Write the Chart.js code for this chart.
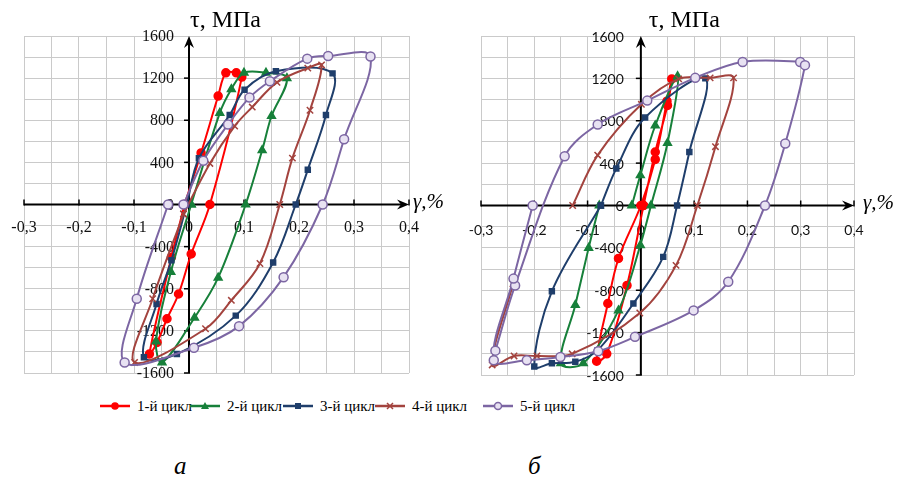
<!DOCTYPE html>
<html>
<head>
<meta charset="utf-8">
<title>Петли гистерезиса τ–γ</title>
<style>
  body { margin: 0; background: #fff; width: 898px; height: 482px; position: relative; overflow: hidden; }
  .panel { position: absolute; top: 0; }
  #legend { position: absolute; top: 396px; left: 0; width: 898px; height: 20px; font-family: "Liberation Serif"; font-size: 15px; color: #000; }
  .item { position: absolute; top: 0; height: 20px; display: flex; align-items: center; white-space: nowrap; }
  .item svg { margin-right: 7px; }
  .cap { position: absolute; top: 452px; font-family: "Liberation Serif"; font-style: italic; font-size: 25px; color: #000; }
</style>
</head>
<body>
<canvas id="chartA" class="panel" style="left:0" width="449" height="390"></canvas>
<canvas id="chartB" class="panel" style="left:449px" width="449" height="390"></canvas>
<div id="legend"></div>
<div class="cap" style="left:174px">а</div>
<div class="cap" style="left:528px">б</div>

<script src="https://cdn.jsdelivr.net/npm/chart.js@4.4.1/dist/chart.umd.min.js"></script>
<script>
// подписи циклов
var cycleNames = ['1-й цикл', '2-й цикл', '3-й цикл', '4-й цикл', '5-й цикл'];

// подписи осей
var xTickValues = [-0.3, -0.2, -0.1, 0, 0.1, 0.2, 0.3, 0.4];
var xTickLabels = ['-0,3', '-0,2', '-0,1', '0', '0,1', '0,2', '0,3', '0,4'];
var yTickValues = [1600, 1200, 800, 400, 0, -400, -800, -1200, -1600];
var yTickLabels = ['1600', '1200', '800', '400', '0', '-400', '-800', '-1200', '-1600'];

// панель а: [γ, %; τ, МПа]
var cycle1A = [[-0.008,0],[0.022,490],[0.053,1030],[0.067,1250],[0.086,1250],[0.096,1210],[0.038,0],[0.004,-470],[-0.019,-850],[-0.040,-1085],[-0.058,-1310],[-0.072,-1420],[-0.032,-500],[-0.008,0]];
var cycle2A = [[0.004,0],[0.056,870],[0.077,1095],[0.100,1250],[0.140,1250],[0.178,1200],[0.150,840],[0.133,515],[0.103,0],[0.053,-695],[0.010,-1075],[-0.049,-1500],[-0.060,-1300],[-0.033,-640],[0.004,0]];
var cycle3A = [[-0.004,0],[0.018,440],[0.074,850],[0.101,1090],[0.158,1265],[0.261,1245],[0.249,850],[0.216,330],[0.194,0],[0.153,-550],[0.085,-1055],[-0.022,-1420],[-0.082,-1450],[-0.059,-945],[-0.032,-530],[-0.004,0]];
var cycle4A = [[-0.010,-90],[0.038,390],[0.083,745],[0.115,925],[0.160,1160],[0.216,1295],[0.241,1325],[0.220,895],[0.188,440],[0.165,0],[0.129,-560],[0.077,-910],[0.030,-1180],[-0.099,-1500],[-0.066,-895],[-0.010,-90]];
var cycle5A = [[-0.010,0],[0.026,415],[0.071,760],[0.110,1015],[0.147,1170],[0.215,1385],[0.253,1410],[0.330,1405],[0.282,620],[0.243,0],[0.172,-690],[0.091,-1155],[0.009,-1360],[-0.117,-1500],[-0.095,-895],[-0.038,0]];

// панель б
var cycle1B = [[0.005,0],[0.027,505],[0.050,945],[0.058,1195],[0.049,985],[0.027,435],[0.000,0],[-0.042,-500],[-0.062,-925],[-0.083,-1470],[-0.064,-1400],[-0.026,-755],[0.005,0]];
var cycle2B = [[-0.017,0],[-0.001,285],[0.027,755],[0.069,1220],[0.050,590],[0.019,0],[-0.001,-375],[-0.042,-990],[-0.108,-1490],[-0.150,-1490],[-0.123,-940],[-0.098,-400],[-0.078,0]];
var cycle3B = [[-0.075,0],[-0.046,350],[0.008,830],[0.121,1200],[0.091,505],[0.068,0],[0.042,-485],[-0.014,-925],[-0.081,-1365],[-0.123,-1475],[-0.167,-1490],[-0.200,-1520],[-0.167,-810],[-0.075,0]];
var cycle4B = [[-0.128,0],[-0.081,475],[0.001,955],[0.071,1195],[0.130,1205],[0.174,1205],[0.140,555],[0.106,0],[0.066,-565],[-0.002,-1015],[-0.129,-1400],[-0.195,-1420],[-0.238,-1420],[-0.279,-1505],[-0.240,-740]];
var cycle5B = [[-0.273,-1370],[-0.236,-755],[-0.143,465],[-0.081,765],[0.012,990],[0.102,1205],[0.191,1355],[0.299,1355],[0.308,1325],[0.271,585],[0.233,0],[0.164,-720],[0.099,-990],[-0.011,-1240],[-0.080,-1375],[-0.151,-1430],[-0.214,-1460],[-0.276,-1460],[-0.239,-690],[-0.203,0]];

var styles = [
  { color: '#ff0000', point: 'circle',   radius: 4,   fill: '#ff0000' },
  { color: '#17803a', point: 'triangle', radius: 4.5, fill: '#17803a' },
  { color: '#1f3e6b', point: 'rect',     radius: 3.5, fill: '#1f3e6b' },
  { color: '#a3433e', point: 'crossRot', radius: 4.5, fill: '#a3433e' },
  { color: '#7c66a3', point: 'circle',   radius: 4.5, fill: '#e8e2f2' }
];

function toXY(arr) {
  return arr.map(function (p) { return { x: p[0], y: p[1] }; });
}

function makeDatasets(cycles) {
  return cycles.map(function (c, i) {
    var s = styles[i];
    return {
      label: cycleNames[i],
      data: toXY(c),
      showLine: true,
      tension: 0.35,
      borderColor: s.color,
      borderWidth: 2,
      pointStyle: s.point,
      pointRadius: s.radius,
      pointBackgroundColor: s.fill,
      pointBorderColor: s.color,
      pointBorderWidth: 1.5,
      order: 5 - i
    };
  });
}

// оси со стрелками через ноль
function crossAxes(cfg) {
  return {
    id: 'crossAxes',
    beforeDatasetsDraw: function (chart) {
      var ctx = chart.ctx, xs = chart.scales.x, ys = chart.scales.y;
      var x0 = xs.getPixelForValue(0), y0 = ys.getPixelForValue(0);
      ctx.save();
      ctx.strokeStyle = '#000';
      ctx.fillStyle = '#000';
      ctx.lineWidth = 2;
      // ось γ
      ctx.beginPath(); ctx.moveTo(xs.left, y0); ctx.lineTo(xs.right - 6, y0); ctx.stroke();
      ctx.beginPath(); ctx.moveTo(xs.right, y0); ctx.lineTo(xs.right - 12, y0 - 5); ctx.lineTo(xs.right - 8, y0); ctx.lineTo(xs.right - 12, y0 + 5); ctx.closePath(); ctx.fill();
      // ось τ
      ctx.beginPath(); ctx.moveTo(x0, ys.bottom); ctx.lineTo(x0, ys.top + 6); ctx.stroke();
      ctx.beginPath(); ctx.moveTo(x0, ys.top); ctx.lineTo(x0 - 5, ys.top + 12); ctx.lineTo(x0, ys.top + 8); ctx.lineTo(x0 + 5, ys.top + 12); ctx.closePath(); ctx.fill();
      // засечки
      ctx.lineWidth = 1.5;
      xTickValues.forEach(function (v) {
        var px = xs.getPixelForValue(v);
        ctx.beginPath(); ctx.moveTo(px, y0 - 5); ctx.lineTo(px, y0 + 1); ctx.stroke();
      });
      yTickValues.forEach(function (v) {
        if (v === 1600) return;
        var py = ys.getPixelForValue(v);
        ctx.beginPath(); ctx.moveTo(x0 - 5, py); ctx.lineTo(x0 + 1, py); ctx.stroke();
      });
      // подписи делений
      ctx.font = cfg.tickFont;
      ctx.fillStyle = '#111';
      ctx.textAlign = 'right';
      ctx.textBaseline = 'middle';
      yTickValues.forEach(function (v, i) {
        ctx.fillText(yTickLabels[i], x0 - cfg.yLabelGap, ys.getPixelForValue(v) + 1);
      });
      ctx.textAlign = 'center';
      xTickValues.forEach(function (v, i) {
        ctx.fillText(xTickLabels[i], xs.getPixelForValue(v), y0 + cfg.xLabelGap);
      });
      // названия осей
      ctx.fillStyle = '#000';
      ctx.font = '24px "Liberation Serif"';
      ctx.textAlign = 'left';
      ctx.fillText('τ, МПа', x0 + cfg.titleDx, 21);
      ctx.font = 'italic 21px "Liberation Serif"';
      ctx.fillText('γ,%', xs.right + cfg.gammaDx, y0 - 2);
      ctx.restore();
    }
  };
}

function makeChart(id, cycles, padding, axisCfg) {
  return new Chart(document.getElementById(id), {
    type: 'scatter',
    data: { datasets: makeDatasets(cycles) },
    plugins: [crossAxes(axisCfg)],
    options: {
      responsive: false,
      animation: false,
      layout: { padding: padding },
      plugins: {
        legend: { display: false },
        tooltip: { enabled: false }
      },
      scales: {
        x: {
          type: 'linear', min: -0.3, max: 0.4,
          ticks: { display: false, stepSize: 0.05 },
          grid: { color: '#cacaca', lineWidth: 1, drawTicks: false },
          border: { display: false },
          afterFit: function (s) { s.height = 0; }
        },
        y: {
          type: 'linear', min: -1600, max: 1600,
          ticks: { display: false, stepSize: 200 },
          grid: { color: '#cacaca', lineWidth: 1, drawTicks: false },
          border: { display: false },
          afterFit: function (s) { s.width = 0; }
        }
      }
    }
  });
}

makeChart('chartA', [cycle1A, cycle2A, cycle3A, cycle4A, cycle5A],
  { left: 24, top: 36, right: 40, bottom: 17 },
  { tickFont: '16px "Liberation Serif"', yLabelGap: 15, xLabelGap: 23, titleDx: 1, gammaDx: 4 });

makeChart('chartB', [cycle1B, cycle2B, cycle3B, cycle4B, cycle5B],
  { left: 32, top: 36, right: 44, bottom: 15 },
  { tickFont: '14px Lato', yLabelGap: 17, xLabelGap: 25, titleDx: 8, gammaDx: 9 });

// легенда
var legendX = [100, 190, 283, 375, 483];
var legend = document.getElementById('legend');
styles.forEach(function (s, i) {
  var m;
  if (s.point === 'circle') m = '<circle cx="15" cy="10" r="' + (s.radius - 1) + '" fill="' + s.fill + '" stroke="' + s.color + '" stroke-width="1.5"/>';
  else if (s.point === 'triangle') m = '<polygon points="15,6 19,13 11,13" fill="' + s.color + '"/>';
  else if (s.point === 'rect') m = '<rect x="12" y="7" width="6" height="6" fill="' + s.color + '"/>';
  else m = '<path d="M12 7 L18 13 M18 7 L12 13" stroke="' + s.color + '" stroke-width="1.5"/>';
  var el = document.createElement('div');
  el.className = 'item';
  el.style.left = legendX[i] + 'px';
  el.innerHTML = '<svg width="30" height="20"><line x1="0" y1="10" x2="30" y2="10" stroke="' + s.color + '" stroke-width="2.5"/>' + m + '</svg><span>' + cycleNames[i] + '</span>';
  legend.appendChild(el);
});
</script>
</body>
</html>
